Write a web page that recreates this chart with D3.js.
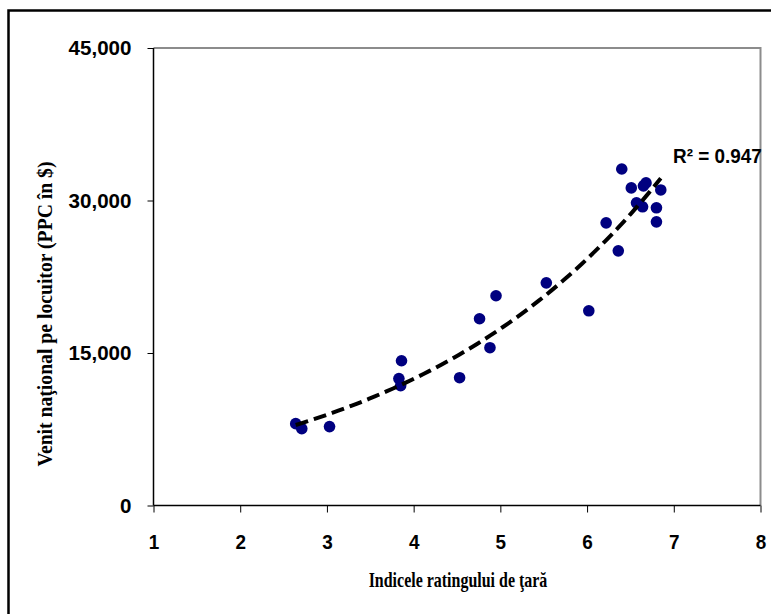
<!DOCTYPE html>
<html>
<head>
<meta charset="utf-8">
<script src="https://cdn.jsdelivr.net/npm/d3@7/dist/d3.min.js"></script>
<style>
  html, body { margin: 0; padding: 0; background: #fff; }
  svg { display: block; }
</style>
</head>
<body>
<svg id="chart" width="771" height="614"></svg>
<script>
// ---- data ----
const xValues = [2.64, 2.71, 3.03, 3.83, 3.85, 3.86, 4.53, 4.76, 4.88, 4.95, 5.53, 6.02,
                 6.22, 6.36, 6.40, 6.51, 6.57, 6.64, 6.65, 6.68, 6.80, 6.80, 6.85];
const yValues = [8050, 7560, 7760, 12480, 11790, 14240, 12570, 18370, 15520, 20630, 21900, 19150,
                 27800, 25050, 33100, 31240, 29770, 29380, 31440, 31730, 29280, 27900, 31040];
const xTicks = [1, 2, 3, 4, 5, 6, 7, 8];
const yTicks = [0, 15000, 30000, 45000];
const rSquaredLabel = "R² = 0.947";
const xTitle = "Indicele ratingului de ţară";
const yTitle = "Venit naţional pe locuitor (PPC în $)";

// ---- layout ----
const svg = d3.select("#chart");
const plot = { left: 153.5, right: 760.5, top: 48, bottom: 505.5 };

const x = d3.scaleLinear().domain([1, 8]).range([plot.left, plot.right]);
const y = d3.scaleLinear().domain([0, 45000]).range([plot.bottom, plot.top]);

// outer border
svg.append("rect")
  .attr("x", 8.5).attr("y", 10.5)
  .attr("width", 800).attr("height", 700)
  .attr("fill", "none").attr("stroke", "#000").attr("stroke-width", 2.5);

// plot frame top/right (grey)
svg.append("path")
  .attr("d", `M${plot.left},${plot.top}H${plot.right}V${plot.bottom}`)
  .attr("fill", "none").attr("stroke", "#8c8c8c").attr("stroke-width", 2);

const sans = "'Liberation Sans', Arial, sans-serif";
const serif = "'Liberation Serif', 'Times New Roman', serif";

// condense text horizontally (the reference glyphs are narrow)
function condense(sel, factor) {
  sel.each(function () {
    const w = this.getComputedTextLength();
    d3.select(this).attr("textLength", w * factor).attr("lengthAdjust", "spacingAndGlyphs");
  });
}

// axes
const xAxis = d3.axisBottom(x).tickValues(xTicks).tickSize(7).tickPadding(22)
  .tickFormat(d3.format("d"));
const gx = svg.append("g").attr("transform", `translate(0,${plot.bottom})`).call(xAxis);

const yAxis = d3.axisLeft(y).tickValues(yTicks).tickSize(6).tickPadding(16)
  .tickFormat(d3.format(","));
const gy = svg.append("g").attr("transform", `translate(${plot.left},0)`).call(yAxis);

[gx, gy].forEach(g => {
  g.select(".domain").attr("stroke", "#000").attr("stroke-width", 1.5);
  g.selectAll(".tick line").attr("stroke", "#000").attr("stroke-width", 1);
  g.selectAll(".tick text").attr("fill", "#000")
    .style("font-family", sans).style("font-weight", "bold").style("font-size", "21px");
});
gx.select(".domain").attr("d", `M${plot.left},0H${plot.right}`);
gy.select(".domain").attr("d", `M0,${plot.bottom}V${plot.top}`);
condense(gx.selectAll(".tick text"), 0.9);
condense(gy.selectAll(".tick text"), 0.98);

// exponential trend line (least squares on ln y), computed from data
function expFit(xs, ys) {
  const n = xs.length;
  const lys = ys.map(v => Math.log(v));
  const mx = d3.mean(xs), my = d3.mean(lys);
  let sxy = 0, sxx = 0;
  for (let i = 0; i < n; i++) { sxy += (xs[i] - mx) * (lys[i] - my); sxx += (xs[i] - mx) ** 2; }
  const b = sxy / sxx, a = my - b * mx;
  return { a: Math.exp(a), b };
}
const fit = expFit(xValues, yValues);
const xMin = d3.min(xValues), xMax = d3.max(xValues);
const trendPts = d3.range(0, 61).map(i => {
  const xv = xMin + (xMax - xMin) * i / 60;
  return [xv, fit.a * Math.exp(fit.b * xv)];
});

// points
svg.append("g").selectAll("circle")
  .data(xValues.map((v, i) => [v, yValues[i]]))
  .join("circle")
  .attr("cx", d => x(d[0])).attr("cy", d => y(d[1]))
  .attr("r", 5.8).attr("fill", "#000080");

// trend line
svg.append("path")
  .datum(trendPts)
  .attr("d", d3.line().x(d => x(d[0])).y(d => y(d[1])))
  .attr("fill", "none").attr("stroke", "#000").attr("stroke-width", 4)
  .attr("stroke-dasharray", "13,6");

// R² label
svg.append("text")
  .attr("x", 673).attr("y", 163)
  .style("font-family", sans).style("font-weight", "bold").style("font-size", "21px")
  .text(rSquaredLabel)
  .call(s => condense(s, 0.9));

// axis titles
svg.append("text")
  .attr("x", 458).attr("y", 587)
  .attr("text-anchor", "middle")
  .style("font-family", serif).style("font-weight", "bold").style("font-size", "21px")
  .text(xTitle)
  .call(s => condense(s, 0.76));

svg.append("text")
  .attr("transform", `translate(52,${314}) rotate(-90)`)
  .attr("text-anchor", "middle")
  .style("font-family", serif).style("font-weight", "bold").style("font-size", "20px")
  .text(yTitle)
  .call(s => s.attr("textLength", 305).attr("lengthAdjust", "spacingAndGlyphs"));
</script>
</body>
</html>
